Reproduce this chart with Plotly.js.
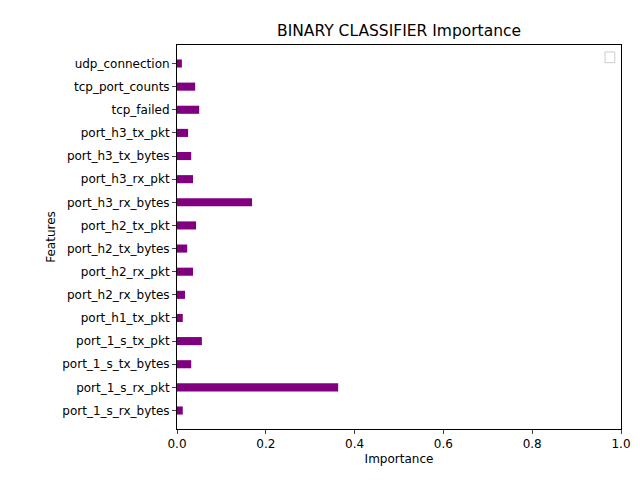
<script src="https://cdn.plot.ly/plotly-3.0.1.min.js"></script>
<div id="chart" style="width:640px;height:480px;"></div>
<script>
  let features = ['port_1_s_rx_bytes', 'port_1_s_rx_pkt', 'port_1_s_tx_bytes', 'port_1_s_tx_pkt',
    'port_h1_tx_pkt', 'port_h2_rx_bytes', 'port_h2_rx_pkt', 'port_h2_tx_bytes', 'port_h2_tx_pkt',
    'port_h3_rx_bytes', 'port_h3_rx_pkt', 'port_h3_tx_bytes', 'port_h3_tx_pkt', 'tcp_failed',
    'tcp_port_counts', 'udp_connection'];
  let importance = [0.013, 0.363, 0.032, 0.056, 0.013, 0.018, 0.036, 0.023, 0.043,
    0.169, 0.036, 0.032, 0.025, 0.050, 0.041, 0.011];

  Plotly.newPlot('chart', [{
    type: 'bar',
    orientation: 'h',
    y: features,
    x: importance,
    width: 0.35,
    marker: {color: 'purple'}
  }], {
    width: 640,
    height: 480,
    margin: {l: 169, r: 27, t: 37, b: 59},
    font: {family: 'DejaVu Sans', size: 12, color: '#000'},
    title: {text: 'BINARY CLASSIFIER Importance', font: {size: 15.5},
      x: 0.611, xanchor: 'center', y: 0.952, yanchor: 'middle'},
    plot_bgcolor: '#fff',
    showlegend: false,
    xaxis: {
      range: [0, 1], dtick: 0.2, tickformat: '.1f', automargin: false,
      showgrid: false, zeroline: false,
      showline: true, mirror: true, linecolor: '#000',
      ticks: 'outside', ticklen: 4,
      title: {text: 'Importance', standoff: 4, font: {size: 12}}
    },
    yaxis: {
      range: [-0.8, 15.8], automargin: false,
      showgrid: false, zeroline: false,
      showline: true, mirror: true, linecolor: '#000',
      ticks: 'outside', ticklen: 4,
      title: {text: 'Features', standoff: 4, font: {size: 12}}
    },
    shapes: [{
      type: 'rect', xref: 'paper', yref: 'paper',
      x0: 0.964, x1: 0.986, y0: 0.954, y1: 0.982,
      line: {color: '#ccc', width: 1}, fillcolor: '#fff'
    }]
  }, {displayModeBar: false});
</script>
